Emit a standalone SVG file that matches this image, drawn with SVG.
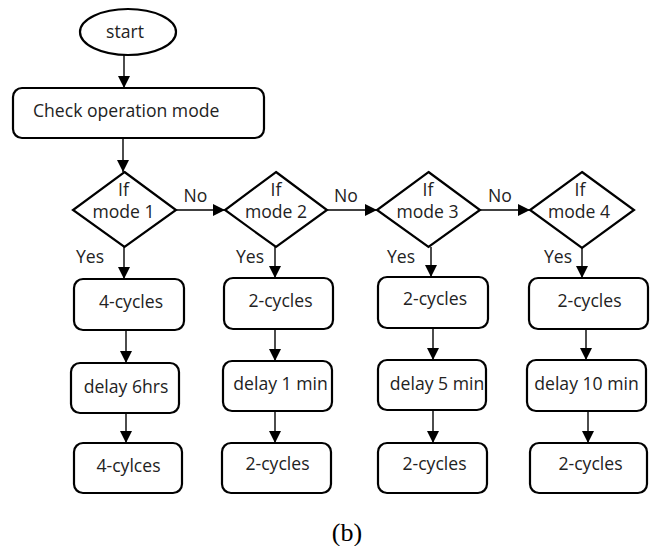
<svg xmlns="http://www.w3.org/2000/svg" width="650" height="546" viewBox="0 0 650 546">
<defs>
<marker id="arr" markerUnits="userSpaceOnUse" markerWidth="13" markerHeight="12" refX="12" refY="6" orient="auto">
<path d="M0,0 L12,6 L0,12 z" fill="#000"/>
</marker>
<style>
.shape{fill:#fff;stroke:#000;stroke-width:2.2}
.t{font-family:"Open Sans","DejaVu Sans",sans-serif;font-size:17.6px;fill:#222;text-anchor:middle}
.ts{font-family:"Open Sans","DejaVu Sans",sans-serif;font-size:17.6px;fill:#222}
.c line{stroke:#000;stroke-width:1.4;marker-end:url(#arr)}
.cap{font-family:"Liberation Serif","Times New Roman",serif;font-size:26px;fill:#000;text-anchor:middle}
</style>
</defs>
<rect width="650" height="546" fill="#fff"/>
<g id="connectors" class="c">
<line x1="124" y1="55" x2="124" y2="88"/>
<line x1="123" y1="138" x2="123" y2="172"/>
<line x1="176" y1="210" x2="225" y2="210"/>
<line x1="327" y1="210" x2="377" y2="210"/>
<line x1="480" y1="210" x2="530" y2="210"/>
<line x1="124" y1="247" x2="124" y2="279"/>
<line x1="275" y1="247" x2="275" y2="278"/>
<line x1="431" y1="247" x2="431" y2="277"/>
<line x1="582" y1="248" x2="582" y2="278"/>
<line x1="126" y1="330" x2="126" y2="363"/>
<line x1="126" y1="413" x2="126" y2="443"/>
<line x1="275" y1="329" x2="275" y2="361"/>
<line x1="275" y1="411" x2="275" y2="443"/>
<line x1="433" y1="328" x2="433" y2="360"/>
<line x1="433" y1="410" x2="433" y2="443"/>
<line x1="586" y1="329" x2="586" y2="360"/>
<line x1="588" y1="411" x2="588" y2="443"/>
</g>
<g id="edge-labels">
<text class="t" x="195.5" y="202">No</text>
<text class="t" x="346" y="202">No</text>
<text class="t" x="500" y="202">No</text>
<text class="ts" x="76" y="263">Yes</text>
<text class="ts" x="236" y="263">Yes</text>
<text class="ts" x="387" y="263">Yes</text>
<text class="ts" x="544" y="263">Yes</text>
</g>
<g id="start">
<ellipse class="shape" cx="128" cy="32" rx="48" ry="23"/>
<text class="t" x="125" y="38">start</text>
</g>
<g id="check">
<rect class="shape" x="13" y="88" width="251" height="50" rx="9"/>
<text class="ts" x="33" y="117">Check operation mode</text>
</g>
<g id="mode1">
<polygon class="shape" points="124.5,172 176,210 124.5,247 73,210"/>
<text class="t" x="123.5" y="196">If</text>
<text class="t" x="123.5" y="218">mode 1</text>
</g>
<g id="mode2">
<polygon class="shape" points="276,172 327,210 276,247 225,210"/>
<text class="t" x="276" y="196">If</text>
<text class="t" x="276" y="218">mode 2</text>
</g>
<g id="mode3">
<polygon class="shape" points="428.5,172 480,210 428.5,247 377,210"/>
<text class="t" x="428" y="196">If</text>
<text class="t" x="427.5" y="218">mode 3</text>
</g>
<g id="mode4">
<polygon class="shape" points="582,172 634,210 582,248 530,210"/>
<text class="t" x="580" y="196">If</text>
<text class="t" x="579" y="218">mode 4</text>
</g>
<g id="m1a"><rect class="shape" x="74" y="279" width="110" height="51" rx="9"/><text class="t" x="131" y="308">4-cycles</text></g>
<g id="m1b"><rect class="shape" x="71" y="363" width="108" height="50" rx="9"/><text class="t" x="126" y="393">delay 6hrs</text></g>
<g id="m1c"><rect class="shape" x="74" y="443" width="108" height="50" rx="9"/><text class="t" x="128.5" y="472">4-cylces</text></g>
<g id="m2a"><rect class="shape" x="224" y="278" width="109" height="51" rx="9"/><text class="t" x="280.5" y="307">2-cycles</text></g>
<g id="m2b"><rect class="shape" x="223" y="361" width="109" height="50" rx="9"/><text class="t" x="280.5" y="390">delay 1 min</text></g>
<g id="m2c"><rect class="shape" x="222" y="443" width="109" height="50" rx="9"/><text class="t" x="277.5" y="470">2-cycles</text></g>
<g id="m3a"><rect class="shape" x="378" y="277" width="110" height="51" rx="9"/><text class="t" x="435" y="305">2-cycles</text></g>
<g id="m3b"><rect class="shape" x="378" y="360" width="108" height="50" rx="9"/><text class="t" x="437" y="390">delay 5 min</text></g>
<g id="m3c"><rect class="shape" x="378" y="443" width="109" height="50" rx="9"/><text class="t" x="434.5" y="470">2-cycles</text></g>
<g id="m4a"><rect class="shape" x="529" y="278" width="119" height="51" rx="9"/><text class="t" x="589.5" y="307">2-cycles</text></g>
<g id="m4b"><rect class="shape" x="527" y="360" width="119" height="51" rx="9"/><text class="t" x="586.5" y="390">delay 10 min</text></g>
<g id="m4c"><rect class="shape" x="530" y="443" width="117" height="50" rx="9"/><text class="t" x="590.5" y="470">2-cycles</text></g>
<text class="cap" x="347" y="541">(b)</text>
</svg>
